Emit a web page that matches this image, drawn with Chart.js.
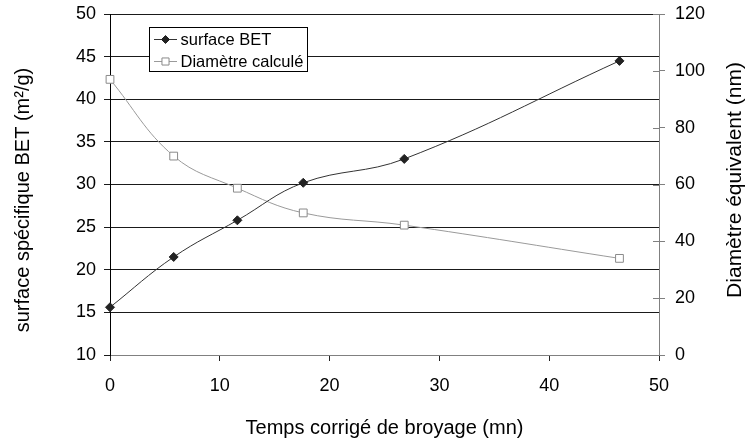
<!DOCTYPE html>
<html>
<head>
<meta charset="utf-8">
<script src="https://cdn.jsdelivr.net/npm/chart.js@4.4.1/dist/chart.umd.min.js"></script>
<style>
  html, body { margin: 0; padding: 0; background: #fff; }
  #wrap { width: 748px; height: 443px; }
</style>
</head>
<body>
<div id="wrap"><canvas id="c" width="748" height="443"></canvas></div>
<script>
// Corrected milling time (mn)
const temps = [0, 5.8, 11.6, 17.6, 26.8, 46.4];
// BET specific surface (m²/g)
const surfaceBET = [15.6, 21.5, 25.8, 30.2, 33.0, 44.5];
// Equivalent diameter computed from the surface (nm)
const diametre = [97, 70, 58.7, 50, 45.7, 34];

const xTicks = [0, 10, 20, 30, 40, 50];
const yLeftTicks = [10, 15, 20, 25, 30, 35, 40, 45, 50];
const yRightTicks = [0, 20, 40, 60, 80, 100, 120];

const labelBET = 'surface BET';
const labelDiam = 'Diamètre calculé';
const titleX = 'Temps corrigé de broyage (mn)';
const titleLeft = 'surface spécifique BET (m²/g)';
const titleRight = 'Diamètre équivalent (nm)';

const FONT = "'Liberation Sans', Arial, sans-serif";

const toPoints = (xs, ys) => xs.map((x, i) => ({ x: x, y: ys[i] }));

function drawMarker(ctx, style, r, x, y) {
  if (style === 'rectRot') {
    ctx.moveTo(x, y - r);
    ctx.lineTo(x + r, y);
    ctx.lineTo(x, y + r);
    ctx.lineTo(x - r, y);
    ctx.closePath();
  } else {
    const s = Math.SQRT1_2 * r;
    ctx.rect(x - s, y - s, 2 * s, 2 * s);
  }
}

function verticalTitle(ctx, text, size, x, y) {
  ctx.save();
  ctx.fillStyle = '#000';
  ctx.font = size + 'px ' + FONT;
  ctx.textAlign = 'center';
  ctx.textBaseline = 'middle';
  ctx.translate(x, y);
  ctx.rotate(-Math.PI / 2);
  ctx.fillText(text, 0, 0);
  ctx.restore();
}

// fixed box sizes so the plot area lands where intended
function fixVertical(width) {
  return s => {
    s.width = width;
    s.paddingTop = 0;
    s.paddingBottom = 0;
  };
}

// Vertical titles (both read bottom to top), crossing ticks on the right axis and the boxed legend
const extras = {
  id: 'extras',
  afterDraw(chart) {
    const ctx = chart.ctx;
    const y1 = chart.scales.y1;
    const area = chart.chartArea;

    ctx.save();
    ctx.strokeStyle = '#808080';
    ctx.lineWidth = 1;
    y1.ticks.forEach(t => {
      const py = Math.round(y1.getPixelForValue(t.value)) + 0.5;
      ctx.beginPath();
      ctx.moveTo(area.right - 6, py);
      ctx.lineTo(area.right, py);
      ctx.stroke();
    });
    ctx.restore();

    verticalTitle(ctx, titleLeft, 20, 23, 200);
    verticalTitle(ctx, titleRight, 21, 735, 180);

    // legend
    const bx = 149.5, by = 27.5, bw = 158, bh = 44;
    ctx.save();
    ctx.fillStyle = '#fff';
    ctx.fillRect(bx, by, bw, bh);
    ctx.strokeStyle = '#000';
    ctx.lineWidth = 1;
    ctx.strokeRect(bx, by, bw, bh);
    const rows = [
      { ds: chart.data.datasets[0], y: 39.5 },
      { ds: chart.data.datasets[1], y: 61.5 }
    ];
    rows.forEach(r => {
      ctx.strokeStyle = r.ds.borderColor;
      ctx.beginPath();
      ctx.moveTo(154, r.y);
      ctx.lineTo(177, r.y);
      ctx.stroke();
      ctx.fillStyle = r.ds.pointBackgroundColor;
      ctx.strokeStyle = r.ds.pointBorderColor;
      ctx.beginPath();
      drawMarker(ctx, r.ds.pointStyle, r.ds.pointStyle === 'rect' ? 5 : 4, 165.5, r.y);
      ctx.fill();
      ctx.stroke();
      ctx.fillStyle = '#000';
      ctx.font = '16.5px ' + FONT;
      ctx.textAlign = 'left';
      ctx.textBaseline = 'middle';
      ctx.fillText(r.ds.label, 180.5, r.y + 0.5);
    });
    ctx.restore();
  }
};

new Chart(document.getElementById('c'), {
  type: 'line',
  data: {
    datasets: [
      {
        label: labelBET,
        data: toPoints(temps, surfaceBET),
        yAxisID: 'y',
        borderColor: '#333333',
        borderWidth: 1,
        tension: 0.4,
        pointStyle: 'rectRot',
        pointRadius: 4.5,
        pointBackgroundColor: '#222222',
        pointBorderColor: '#222222',
        pointBorderWidth: 1,
        clip: false
      },
      {
        label: labelDiam,
        data: toPoints(temps, diametre),
        yAxisID: 'y1',
        borderColor: '#9a9a9a',
        borderWidth: 1,
        tension: 0.4,
        pointStyle: 'rect',
        pointRadius: 5.5,
        pointBackgroundColor: '#ffffff',
        pointBorderColor: '#8a8a8a',
        pointBorderWidth: 1,
        clip: false
      }
    ]
  },
  options: {
    responsive: false,
    animation: false,
    devicePixelRatio: 1,
    layout: { padding: { top: 14, left: 0, right: 0, bottom: 0 } },
    plugins: {
      legend: { display: false },
      tooltip: { enabled: false }
    },
    scales: {
      x: {
        type: 'linear',
        min: 0, max: 50,
        afterBuildTicks: s => { s.ticks = xTicks.map(v => ({ value: v })); },
        afterFit: s => { s.height = 88; },
        grid: { drawOnChartArea: false, drawTicks: true, tickLength: 6, color: '#222' },
        border: { color: '#808080', width: 1 },
        ticks: { color: '#000', font: { family: FONT, size: 18 }, padding: 14, maxRotation: 0 },
        title: { display: true, text: titleX, color: '#000', font: { family: FONT, size: 20 }, padding: { top: 0, bottom: 3 } }
      },
      y: {
        type: 'linear',
        position: 'left',
        min: 10, max: 50,
        afterBuildTicks: s => { s.ticks = yLeftTicks.map(v => ({ value: v })); },
        afterFit: fixVertical(110),
        grid: { drawOnChartArea: true, drawTicks: true, tickLength: 6, color: '#1a1a1a' },
        border: { color: '#000', width: 1 },
        ticks: { color: '#000', font: { family: FONT, size: 18 }, padding: 8 }
      },
      y1: {
        type: 'linear',
        position: 'right',
        min: 0, max: 120,
        afterBuildTicks: s => { s.ticks = yRightTicks.map(v => ({ value: v })); },
        afterFit: fixVertical(89),
        grid: { drawOnChartArea: false, drawTicks: true, tickLength: 6, color: '#808080' },
        border: { color: '#808080', width: 1 },
        ticks: { color: '#000', font: { family: FONT, size: 18 }, padding: 10 }
      }
    }
  },
  plugins: [extras]
});
</script>
</body>
</html>
